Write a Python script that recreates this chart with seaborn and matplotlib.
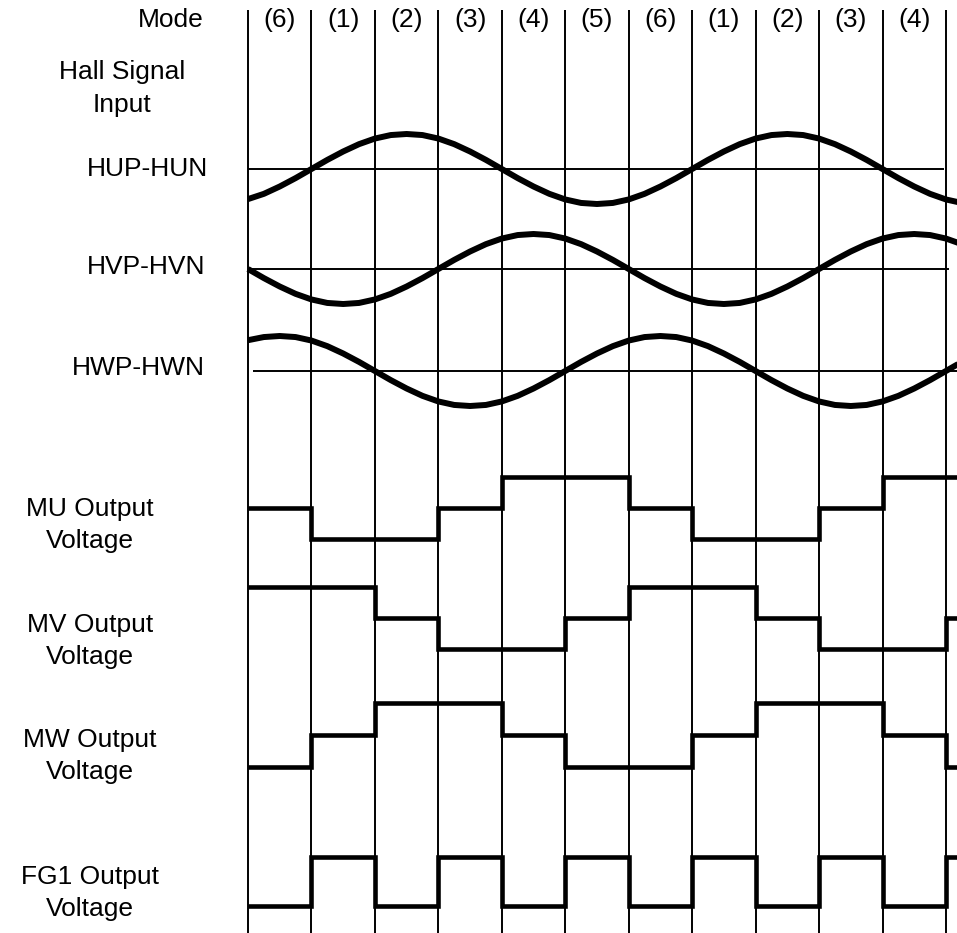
import numpy as np
import pandas as pd
import matplotlib
matplotlib.use("Agg")
import matplotlib.pyplot as plt
import seaborn as sns

# Mode order along the time axis (one entry per commutation interval)
mode_seq = [6, 1, 2, 3, 4, 5, 6, 1, 2, 3, 4, 5]
mode_labels = ["(6)", "(1)", "(2)", "(3)", "(4)", "(5)", "(6)", "(1)", "(2)", "(3)", "(4)"]

# Output state in each mode: 1 = high, 0 = middle, -1 = low
mu_state = {1: -1, 2: -1, 3: 0, 4: 1, 5: 1, 6: 0}
mv_state = {1: 1, 2: 0, 3: -1, 4: -1, 5: 0, 6: 1}
mw_state = {1: 0, 2: 1, 3: 1, 4: 0, 5: -1, 6: -1}
fg1_state = {1: 1, 2: -1, 3: 1, 4: -1, 5: 1, 6: -1}

hall_t = [i / 4 for i in range(47)]
hu = [-0.86, -0.71, -0.50, -0.26,
      0.00, 0.26, 0.50, 0.71, 0.87, 0.97, 1.00, 0.97, 0.87, 0.71, 0.50, 0.26,
      0.00, -0.26, -0.50, -0.71, -0.87, -0.97, -1.00, -0.97, -0.87, -0.71, -0.50, -0.26,
      0.00, 0.26, 0.50, 0.71, 0.87, 0.97, 1.00, 0.97, 0.87, 0.71, 0.50, 0.26,
      0.00, -0.26, -0.50, -0.71, -0.87, -0.97, -1.00]
hv = [0.00, -0.26, -0.50, -0.71, -0.87, -0.97, -1.00, -0.97, -0.87, -0.71, -0.50, -0.26,
      0.00, 0.26, 0.50, 0.71, 0.87, 0.97, 1.00, 0.97, 0.87, 0.71, 0.50, 0.26,
      0.00, -0.26, -0.50, -0.71, -0.87, -0.97, -1.00, -0.97, -0.87, -0.71, -0.50, -0.26,
      0.00, 0.26, 0.50, 0.71, 0.87, 0.97, 1.00, 0.97, 0.87, 0.71, 0.50]
hw = [0.88, 0.97, 1.00, 0.97, 0.87, 0.71, 0.50, 0.26,
      0.00, -0.26, -0.50, -0.71, -0.87, -0.97, -1.00, -0.97, -0.87, -0.71, -0.50, -0.26,
      0.00, 0.26, 0.50, 0.71, 0.87, 0.97, 1.00, 0.97, 0.87, 0.71, 0.50, 0.26,
      0.00, -0.26, -0.50, -0.71, -0.87, -0.97, -1.00, -0.97, -0.87, -0.71, -0.50, -0.26,
      0.00, 0.26, 0.50]

W, H = 957, 933
PX = 63.45        # pixels per mode interval
X0 = 248          # pixel of the first mode boundary

# track layout (vertical centre and scale, in pixels from top)
hall_rows = {"HU": (169, 35), "HV": (269, 35), "HW": (371, 35)}
out_rows = {"MU": (508, 31), "MV": (618, 31), "MW": (735, 32), "FG1": (881, 24.5)}

sns.set_style("white")
plt.rcParams["font.family"] = ["Liberation Sans", "DejaVu Sans"]
plt.rcParams["text.color"] = "black"

fig = plt.figure(figsize=(W / 100, H / 100), dpi=100)
ax = fig.add_axes([0, 0, 1, 1])

# hall sine signals
hall_frames = []
for name, vals in [("HU", hu), ("HV", hv), ("HW", hw)]:
    c, a = hall_rows[name]
    hall_frames.append(pd.DataFrame({"t": hall_t,
                                     "y": [c - a * v for v in vals],
                                     "signal": name}))
hall_df = pd.concat(hall_frames, ignore_index=True)

# driver output step signals
bounds = list(range(len(mode_seq))) + [len(mode_seq) - 0.5]
out_frames = []
for name, state in [("MU", mu_state), ("MV", mv_state), ("MW", mw_state), ("FG1", fg1_state)]:
    c, s = out_rows[name]
    lv = [state[m] for m in mode_seq]
    lv = lv + [lv[-1]]
    out_frames.append(pd.DataFrame({"t": bounds,
                                    "y": [c - s * v for v in lv],
                                    "signal": name}))
out_df = pd.concat(out_frames, ignore_index=True)

# grid of mode boundaries and zero lines
ax.vlines(range(len(mode_seq)), 10, H, color="black", lw=1.4, zorder=1)
ax.hlines(hall_rows["HU"][0], 0, 10.97, color="black", lw=1.4, zorder=1)
ax.hlines(hall_rows["HV"][0], 0, 11.05, color="black", lw=1.4, zorder=1)
ax.hlines(hall_rows["HW"][0], 0.08, 11.3, color="black", lw=1.4, zorder=1)

sns.lineplot(data=hall_df, x="t", y="y", units="signal", estimator=None, sort=False,
             color="black", linewidth=4.3, legend=False, ax=ax,
             solid_capstyle="butt", zorder=3)
sns.lineplot(data=out_df, x="t", y="y", units="signal", estimator=None, sort=False,
             color="black", linewidth=3.3, legend=False, ax=ax,
             drawstyle="steps-post", solid_joinstyle="miter", solid_capstyle="butt", zorder=3)
ax.set_xlim(-X0 / PX, (W - X0) / PX)
ax.set_ylim(H, 0)
ax.set_axis_off()

# mode labels
for i, lab in enumerate(mode_labels):
    ax.text(i + 0.5, 20, lab, ha="center", va="center", fontsize=19, color="black")


def label(x, y, s, ha="center"):
    fig.text(x / W, 1 - y / H, s, ha=ha, va="center", fontsize=19, color="black")


label(204, 20, "Mode", ha="right")
label(122, 72, "Hall Signal")
label(122, 105, "Input")
label(208, 169, "HUP-HUN", ha="right")
label(205, 267, "HVP-HVN", ha="right")
label(205, 368, "HWP-HWN", ha="right")
for name, y in [("MU", 509), ("MV", 625), ("MW", 740), ("FG1", 877)]:
    label(90, y, name + " Output")
    label(90, y + 32, "Voltage")

fig.savefig("out.png", dpi=100)
